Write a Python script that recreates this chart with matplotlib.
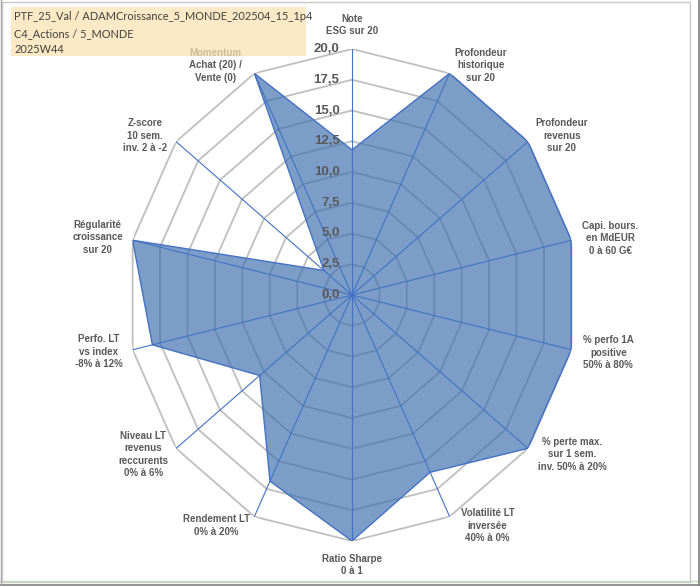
import numpy as np
import matplotlib.pyplot as plt
from matplotlib.patches import Rectangle
from matplotlib.lines import Line2D

# axes of the radar, clockwise from the top
labels = ['Note\nESG sur 20',
          'Profondeur\nhistorique\nsur 20',
          'Profondeur\nrevenus\nsur 20',
          'Capi. bours.\nen MdEUR\n0 à 60 G€',
          '% perfo 1A\npositive\n50% à 80%',
          '% perte max.\nsur 1 sem.\ninv. 50% à 20%',
          'Volatilité LT\ninversée\n40% à 0%',
          'Ratio Sharpe\n0 à 1',
          'Rendement LT\n0% à 20%',
          'Niveau LT\nrevenus\nreccurents\n0% à 6%',
          'Perfo. LT\nvs index\n-8% à 12%',
          'Régularité\ncroissance\nsur 20',
          'Z-score\n10 sem.\ninv. 2 à -2',
          'Momentum\nAchat (20) /\nVente (0)']
scores = [11.8, 20, 20, 20, 20, 20, 16, 20, 16.8, 10.5, 18.2, 20, 3.2, 20]
levels = [0, 2.5, 5, 7.5, 10, 12.5, 15, 17.5, 20]
title_lines = ['PTF_25_Val / ADAMCroissance_5_MONDE_202504_15_1p4',
               'C4_Actions / 5_MONDE',
               '2025W44']

# label offsets from the outer vertex, in pixels (x right, y up)
label_off = [(0, 24), (31, 8), (34, 6), (39, 2), (37, -3), (44, -6), (38, -9),
             (0, -24), (-38, -9), (-33, -6), (-34, -2), (-35, 3), (-31, 6), (-39, 8)]

W, H = 700, 586
fig = plt.figure(figsize=(W / 100, H / 100), dpi=100)
fig.patch.set_facecolor('white')

cx, cy = 352, 295          # centre in pixels from top-left
rx, ry = 225, 246          # the chart is a bit squeezed horizontally
ax = fig.add_axes([(cx - rx) / W, (H - cy - ry) / H, 2 * rx / W, 2 * ry / H],
                  projection='polar')
ax.set_aspect('auto')
ax.set_theta_zero_location('N')
ax.set_theta_direction(-1)
ax.set_ylim(0, 20)
ax.grid(False)
ax.set_xticks([])
ax.set_yticks([])
ax.spines['polar'].set_visible(False)
ax.patch.set_visible(False)

n = len(labels)
theta = np.linspace(0, 2 * np.pi, n, endpoint=False)
theta_c = np.append(theta, theta[0])

# polygon gridlines
for lv in levels[1:]:
    ax.plot(theta_c, [lv] * (n + 1), color='#BFBFBF', lw=1.3, zorder=1)

vals = np.append(scores, scores[0])
ax.fill(theta_c, vals, facecolor=(0.243, 0.435, 0.686, 0.68),
        edgecolor='#4472C4', lw=1.0, zorder=2)

# spokes
for t in theta:
    ax.plot([t, t], [0, 20], color='#4472C4', lw=0.8, zorder=3)

bold = 'Liberation Sans'

# value ticks along the top axis
for lv in levels:
    ax.annotate(f'{lv:.1f}'.replace('.', ','), xy=(0, lv), xytext=(-9, 0),
                textcoords='offset points', ha='right', va='center',
                fontsize=9.5, fontweight='bold', color='#595959',
                family=bold, zorder=4)

# category labels
for t, lab, (ox, oy) in zip(theta, labels, label_off):
    ax.annotate(lab, xy=(t, 20), xytext=(ox * 0.72, oy * 0.72),
                textcoords='offset points', ha='center', va='center',
                multialignment='center', fontsize=7, fontweight='bold',
                color='#595959', family=bold, linespacing=1.3,
                annotation_clip=False, zorder=4)

# title box (drawn over the chart, slightly see-through)
fig.patches.append(Rectangle((11 / W, 1 - 56 / H), 295 / W, 49 / H,
                             transform=fig.transFigure,
                             facecolor=(0.988, 0.886, 0.69, 0.72),
                             edgecolor='none', zorder=5))
fig.text(14 / W, 1 - 11.5 / H, '\n'.join(title_lines), ha='left', va='top',
         fontsize=7.9, color='#404040', family='Lato', linespacing=1.6,
         zorder=6)

# chart frame
fig.patches.append(Rectangle((1.5 / W, 1 - 582 / H), 688.5 / W, 580 / H,
                             transform=fig.transFigure, facecolor='none',
                             edgecolor='#C8C8C8', lw=1, zorder=7))
fig.lines.append(Line2D([0, 1], [1 - 581 / H] * 2, transform=fig.transFigure,
                        color='#C6E0B4', lw=1, zorder=7))
fig.lines.append(Line2D([698.5 / W] * 2, [0, 1], transform=fig.transFigure,
                        color='#808080', lw=1.2, zorder=7))
fig.lines.append(Line2D([0, 1], [1 - 584.5 / H] * 2, transform=fig.transFigure,
                        color='#808080', lw=1.2, zorder=7))
fig.lines.append(Line2D([1 / W] * 2, [0, 1], transform=fig.transFigure,
                        color='#A0A0A0', lw=1, zorder=7))

fig.savefig('out.png', dpi=100)
